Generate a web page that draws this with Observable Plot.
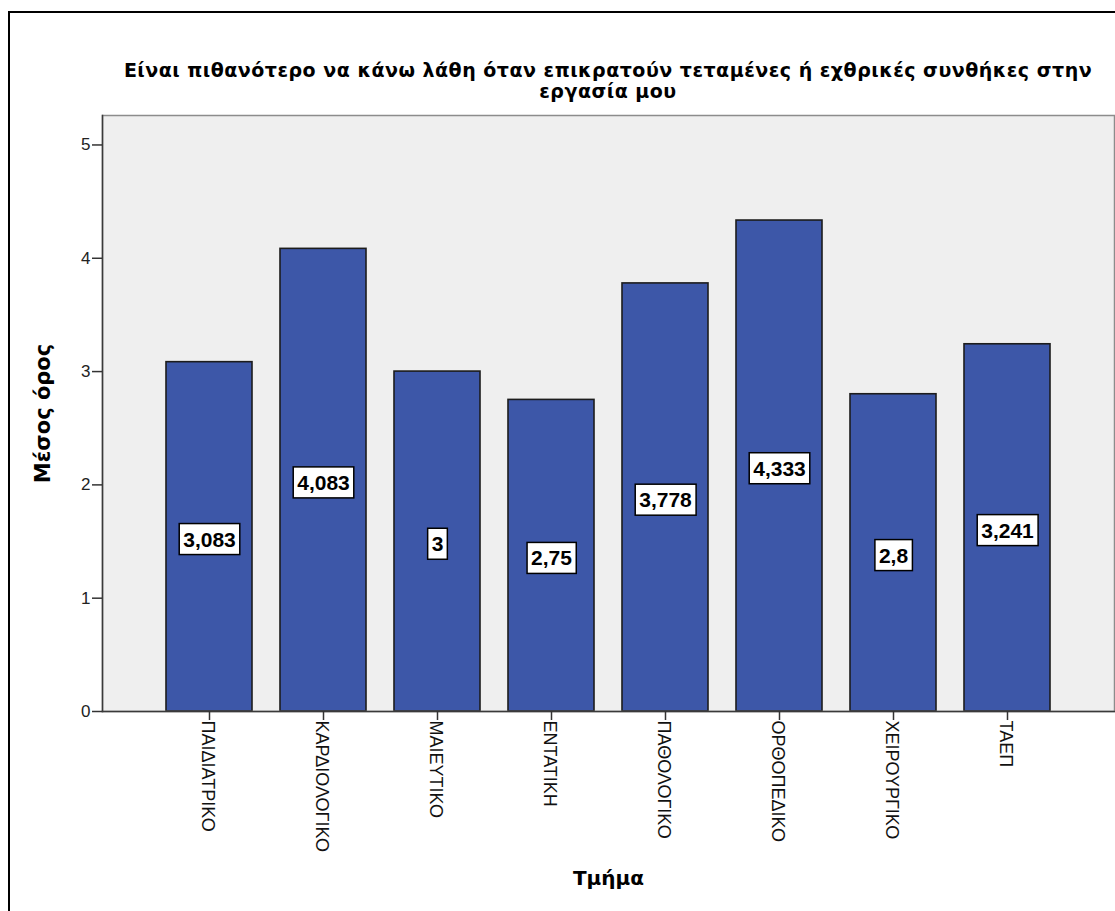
<!DOCTYPE html>
<html>
<head>
<meta charset="utf-8">
<script src="https://cdn.jsdelivr.net/npm/d3@7"></script>
<script src="https://cdn.jsdelivr.net/npm/@observablehq/plot@0.6"></script>
<style>
  html, body { margin: 0; padding: 0; background: #fff; overflow: hidden; }
  #page { position: relative; width: 1115px; height: 911px; overflow: hidden; }
  #border {
    position: absolute; left: 8px; top: 11px; width: 1300px; height: 1100px;
    border: 2px solid #000; box-sizing: border-box; pointer-events: none;
  }
  #title {
    height: 100px; box-sizing: border-box; width: 1115px;
    padding: 60px 1px 0 102px; text-align: center;
    font-family: "DejaVu Sans", Verdana, sans-serif; font-weight: bold;
    font-size: 19px; line-height: 21px; letter-spacing: 0.5px; color: #000;
  }
  #chart svg { display: block; }
  g[aria-label="y label"] text { letter-spacing: 1.5px; }
</style>
</head>
<body>
<div id="page">
  <div id="title"></div>
  <div id="chart"></div>
  <div id="border"></div>
</div>
<script>
// Mean agreement score per hospital department
const titleLines = [
  "Είναι πιθανότερο να κάνω λάθη όταν επικρατούν τεταμένες ή εχθρικές συνθήκες στην",
  "εργασία μου"
];
const departments = ["ΠΑΙΔΙΑΤΡΙΚΟ", "ΚΑΡΔΙΟΛΟΓΙΚΟ", "ΜΑΙΕΥΤΙΚΟ", "ΕΝΤΑΤΙΚΗ",
                     "ΠΑΘΟΛΟΓΙΚΟ", "ΟΡΘΟΠΕΔΙΚΟ", "ΧΕΙΡΟΥΡΓΙΚΟ", "ΤΑΕΠ"];
const meanScores = [3.083, 4.083, 3, 2.75, 3.778, 4.333, 2.8, 3.241];
const yTicks = [0, 1, 2, 3, 4, 5];
const yLabel = "Μέσος όρος";
const xLabel = "Τμήμα";

const rows = departments.map((dept, i) => ({dept, mean: meanScores[i]}));
const commaDecimal = v => String(v).replace(".", ",");
const valueTexts = new Set(meanScores.map(commaDecimal));

document.getElementById("title").innerHTML = titleLines.join("<br>");

const boldFont = "'DejaVu Sans', Verdana, sans-serif";
const plainFont = "'Liberation Sans', Arial, sans-serif";

const chart = Plot.plot({
  width: 1115,
  height: 811,
  marginLeft: 102,
  marginRight: 1,
  marginTop: 15,
  marginBottom: 200,
  style: {background: "transparent", fontFamily: plainFont, fontSize: "17px", color: "#222"},
  x: {type: "band", domain: departments, paddingInner: 0.246, paddingOuter: 0.56, axis: null},
  y: {domain: [0, 5.26], axis: null},
  marks: [
    Plot.frame({fill: "#EFEFEF", stroke: null}),
    Plot.barY(rows, {x: "dept", y: "mean", fill: "#3D57A8", stroke: "#1C1C1C", strokeWidth: 1.6}),
    Plot.frame({stroke: "#8C8C8C", strokeWidth: 1.5}),
    Plot.frame({anchor: "left", stroke: "#3A3A3A", strokeWidth: 1.5}),
    Plot.frame({anchor: "bottom", stroke: "#3A3A3A", strokeWidth: 1.5}),
    Plot.axisY({ticks: yTicks, tickFormat: d => String(d), tickSize: 10, tickPadding: 2,
                label: null, fontSize: 17, stroke: "#333", strokeWidth: 1.5}),
    Plot.axisX({tickSize: 9, tickFormat: () => "", label: null, stroke: "#333", strokeWidth: 1.5}),
    // department names, rotated to read top-down under each tick
    Plot.text(departments, {
      x: d => d, text: d => d, frameAnchor: "bottom", rotate: 90,
      textAnchor: "start", lineAnchor: "middle", dy: 9, dx: -2,
      fontFamily: plainFont, fontSize: 18, fill: "#111"
    }),
    // mean values at mid-height of each bar (boxed below)
    Plot.text(rows, {
      x: "dept", y: d => d.mean / 2, text: d => commaDecimal(d.mean), dy: 3,
      fontFamily: plainFont, fontWeight: "bold", fontSize: 21, fill: "#000",
      ariaLabel: "mean value"
    }),
    Plot.text([yLabel], {
      text: d => d, frameAnchor: "left", textAnchor: "middle", dx: -59, rotate: -90,
      fontFamily: boldFont, fontWeight: "bold", fontSize: 21, fill: "#000",
      ariaLabel: "y label"
    }),
    Plot.text([xLabel], {
      text: d => d, frameAnchor: "bottom", textAnchor: "middle", dy: 173,
      fontFamily: boldFont, fontWeight: "bold", fontSize: 20, fill: "#000"
    })
  ]
});

document.getElementById("chart").appendChild(chart);

// white boxes behind the value labels, sized from each rendered label
const svgNS = "http://www.w3.org/2000/svg";
let valueLabels = Array.from(chart.querySelectorAll('g[aria-label="mean value"] text'));
if (!valueLabels.length) {
  valueLabels = Array.from(chart.querySelectorAll("text")).filter(t => {
    const g = t.closest("g");
    return valueTexts.has(t.textContent.trim()) && g && g.getAttribute("font-weight") === "bold";
  });
}
valueLabels.forEach(t => {
  const b = t.getBBox();
  const r = document.createElementNS(svgNS, "rect");
  r.setAttribute("x", b.x - 4);
  r.setAttribute("y", b.y - 4);
  r.setAttribute("width", b.width + 8);
  r.setAttribute("height", b.height + 8);
  r.setAttribute("fill", "#fff");
  r.setAttribute("stroke", "#000");
  r.setAttribute("stroke-width", 1.5);
  const tr = t.getAttribute("transform");
  if (tr) r.setAttribute("transform", tr);
  t.parentNode.insertBefore(r, t);
});
</script>
</body>
</html>
